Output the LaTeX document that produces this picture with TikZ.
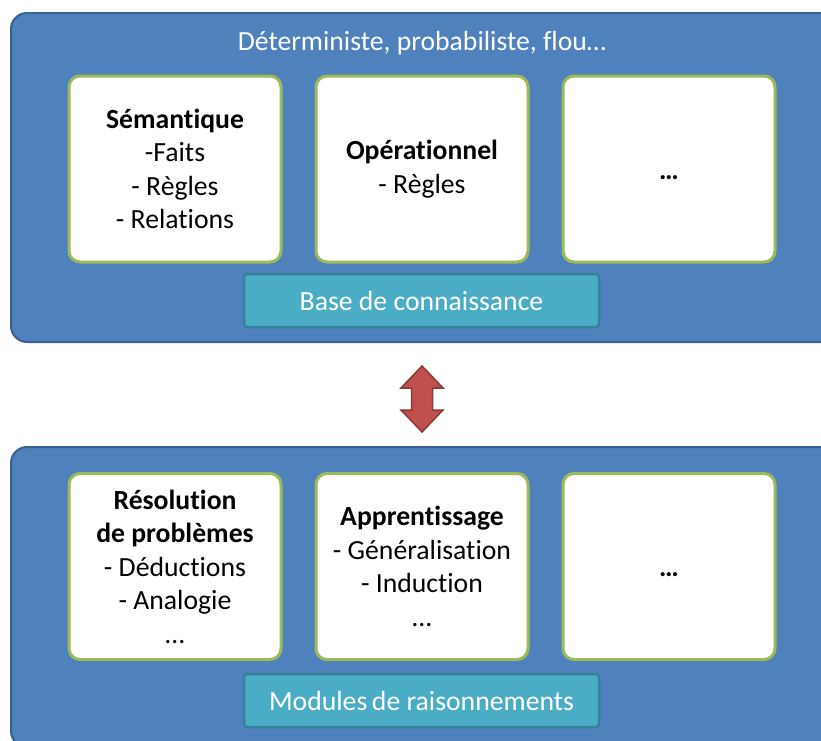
\documentclass[tikz,border=0pt]{standalone}
\usepackage{fontspec}
\setmainfont{Carlito}[Ligatures={NoCommon}]
\definecolor{panelblue}{HTML}{4F81BD}
\definecolor{paneledge}{HTML}{3A6090}
\definecolor{cardgreen}{HTML}{9BBB59}
\definecolor{tagteal}{HTML}{4BACC6}
\definecolor{tagedge}{HTML}{35809A}
\definecolor{arrowred}{HTML}{C0504D}
\definecolor{arrowedge}{HTML}{8C3836}
\tikzset{
  panel/.style={fill=panelblue, draw=paneledge, line width=2pt, rounded corners=16pt, minimum width=829pt, inner sep=0pt},
  card/.style={fill=white, draw=cardgreen, line width=3pt, rounded corners=11pt, minimum width=212pt, minimum height=186pt, align=center, inner sep=0pt, text=black, font=\fontsize{27.7}{33.5}\selectfont},
  tag/.style={fill=tagteal, draw=tagedge, line width=2.5pt, rounded corners=3pt, minimum width=355pt, minimum height=53pt, inner sep=0pt, text=white, font=\fontsize{27.7}{30}\selectfont},
  caption/.style={text=white, font=\fontsize{27.7}{30}\selectfont, inner sep=0pt},
  link/.style={fill=arrowred, draw=arrowedge, line width=1.5pt, line join=miter}
}
\begin{document}
\begin{tikzpicture}[x=1pt,y=-1pt]
\useasboundingbox (0,0) rectangle (821,740);
\clip (0,0) rectangle (821,740);
% panels
\node[panel, minimum height=329pt] (toppanel) at (425.5,177.5) {};
\node[panel, minimum height=300pt] (botpanel) at (425.5,597) {};
% top panel content
\node[caption] (topcap) at (422,43) {Déterministe, probabiliste, flou…};
\node[card] (sem) at (175,169) {\textbf{Sémantique}\\-Faits\\- Règles\\- Relations};
\node[card] (ope) at (422,169) {\textbf{Opérationnel}\\- Règles};
\node[card] (tdots) at (669,169) {\raisebox{-22pt}{\textbf{…}}};
\node[tag] (base) at (421.5,300.5) {Base de connaissance};
% bottom panel content
\node[card] (reso) at (175,566.5) {\textbf{Résolution}\\\textbf{de problèmes}\\- Déductions\\- Analogie\\…};
\node[card] (appr) at (422,566.5) {\textbf{Apprentissage}\\- Généralisation\\- Induction\\…};
\node[card] (bdots) at (669,566.5) {\raisebox{-21pt}{\textbf{…}}};
\node[tag] (modu) at (421.5,700.5) {Modules\,de raisonnements};
% double arrow
\coordinate (atop) at (422,366);
\coordinate (abot) at (422,432);
\draw[link] (atop) -- ++(21,22) -- ++(-10.5,0) -- ++(0,22) -- ++(10.5,0)
  -- (abot) -- ++(-21,-22) -- ++(10.5,0) -- ++(0,-22) -- ++(-10.5,0) -- cycle;
\end{tikzpicture}
\end{document}
